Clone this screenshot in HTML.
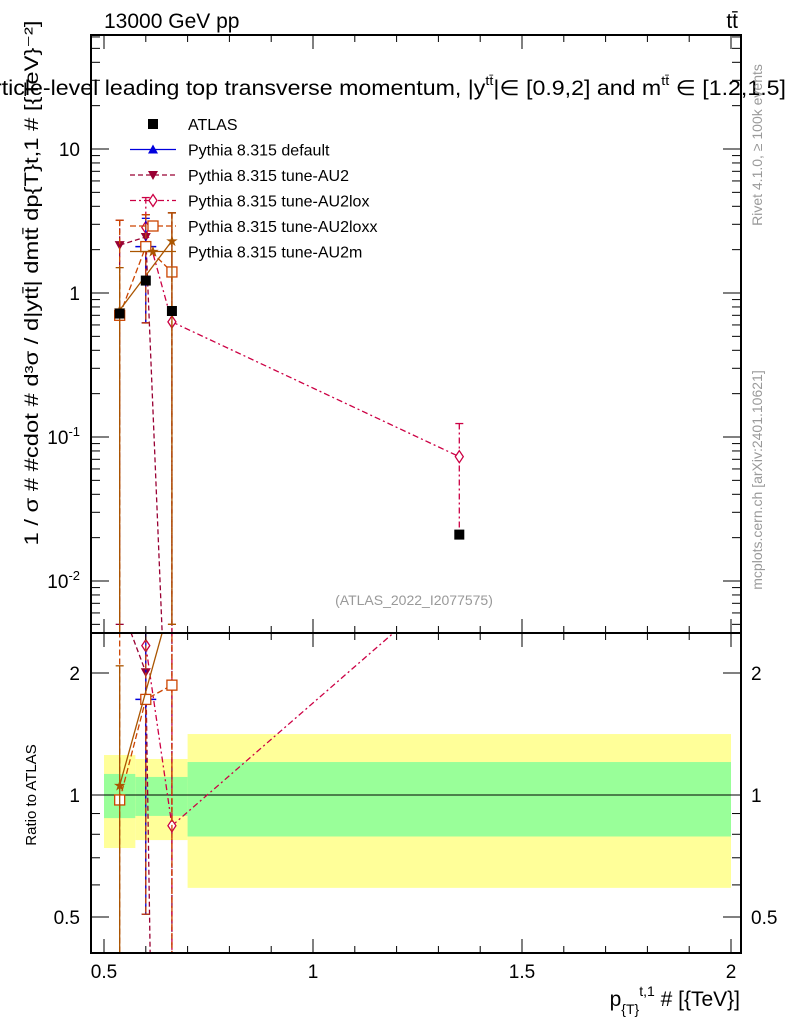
<!DOCTYPE html>
<html><head><meta charset="utf-8"><style>
html,body{margin:0;background:#fff;overflow:hidden;width:786px;height:1024px}
svg{display:block;font-family:"Liberation Sans",sans-serif}
</style></head><body>
<svg id="c" width="786" height="1024" xmlns="http://www.w3.org/2000/svg"></svg>
<script>
const xPts=[0.5375,0.6,0.6625,1.35];
const atlas=[0.72,1.22,0.75,0.021];
const bandEdges=[0.5,0.575,0.7,2.0];
const yellowLo=[0.74,0.774,0.59];
const yellowHi=[1.255,1.227,1.414];
const greenLo=[0.877,0.888,0.79];
const greenHi=[1.127,1.108,1.206];
const defX=[0.6], defV=[2.1], defLo=[0.62], defHi=[3.3];
const au2X=[0.5375,0.6,0.6625], au2V=[2.15,2.45,0.0001], au2Lo=[0.005,0.62,0.00001], au2Hi=[3.2,3.5,3.6];
const loxX=[0.6,0.6625,1.35], loxV=[2.85,0.63,0.073], loxLo=[0.62,0.00001,0.022], loxHi=[4.6,3.6,0.124];
const loxxX=[0.5375,0.6,0.6625], loxxV=[0.70,2.1,1.4], loxxLo=[0.00001,0.62,0.005], loxxHi=[3.2,3.5,3.6];
const amX=[0.5375,0.6625], amV=[0.76,2.3], amLo=[0.00001,0.005], amHi=[1.5,3.6];
const xTicks=[0.5,1,1.5,2], xTickLabels=["0.5","1","1.5","2"];

const S=document.getElementById('c'),NS='http://www.w3.org/2000/svg';
function el(t,a,p){const e=document.createElementNS(NS,t);for(const k in a)e.setAttribute(k,a[k]);(p||S).appendChild(e);return e;}
const L=91,R=741,T=35,M=633,B=953;
const X=v=>104+(v-0.5)*418;
const Y=v=>293-Math.log10(v)*144;
const RY=v=>795-Math.log2(v)*122;
const defs=el('defs',{});
const c1=el('clipPath',{id:'cm'},defs);el('rect',{x:L,y:T,width:R-L,height:M-T},c1);
const c2=el('clipPath',{id:'cr'},defs);el('rect',{x:L,y:M,width:R-L,height:B-M},c2);
for(let i=0;i<3;i++){
 const y=el('rect',{x:X(bandEdges[i]),y:RY(yellowHi[i]),width:X(bandEdges[i+1])-X(bandEdges[i]),height:RY(yellowLo[i])-RY(yellowHi[i]),fill:'#ffff99'});
 
 const g=el('rect',{x:X(bandEdges[i]),y:RY(greenHi[i]),width:X(bandEdges[i+1])-X(bandEdges[i]),height:RY(greenLo[i])-RY(greenHi[i]),fill:'#99ff99'});
 
}
el('line',{x1:L,x2:R,y1:RY(1),y2:RY(1),stroke:'#000','stroke-width':1});
const gm=el('g',{'clip-path':'url(#cm)'}),gr=el('g',{'clip-path':'url(#cr)'});
function marker(g,type,x,y,col){
 if(type==='sq')el('rect',{x:x-5,y:y-5,width:10,height:10,fill:'#000'},g);
 if(type==='tri')el('path',{d:`M${x-5},${y+4}L${x+5},${y+4}L${x},${y-5}Z`,fill:col},g);
 if(type==='tdn')el('path',{d:`M${x-5},${y-4}L${x+5},${y-4}L${x},${y+5}Z`,fill:col},g);
 if(type==='dia')el('path',{d:`M${x},${y-6}L${x+4},${y}L${x},${y+6}L${x-4},${y}Z`,fill:'#fff',stroke:col,'stroke-width':1.3},g);
 if(type==='osq')el('rect',{x:x-5,y:y-5,width:10,height:10,fill:'#fff',stroke:col,'stroke-width':1.3},g);
 if(type==='star')el('text',{x:x,y:y+5,'font-size':15,'text-anchor':'middle',fill:col},g).textContent='★';
}
function series(name,xs,vs,lo,hi,col,dash,type,xerr){
 for(const [g,f,ref,top] of [[gm,Y,false,T],[gr,RY,true,M]]){
  const grp=el('g',{},g);
  
  const pts=xs.map((x,i)=>[X(x),Math.max(-3000,Math.min(3000,f(ref?vs[i]/atlas[xPts.indexOf(x)]:vs[i])))]);
  el('polyline',{points:pts.map(p=>p.join(',')).join(' '),fill:'none',stroke:col,'stroke-width':1.3,'stroke-dasharray':dash},grp);
  xs.forEach((x,i)=>{const a=ref?atlas[xPts.indexOf(x)]:1;
   if(pts[i][1]<top)return;
   const y1=f(hi[i]/a),y2=Math.min(3000,f(lo[i]/a));
   el('line',{x1:X(x),x2:X(x),y1:y1,y2:y2,stroke:col,'stroke-width':1.3,'stroke-dasharray':dash},grp);
   el('line',{x1:X(x)-4,x2:X(x)+4,y1:y1,y2:y1,stroke:col,'stroke-width':1.3},grp);
   el('line',{x1:X(x)-4,x2:X(x)+4,y1:y2,y2:y2,stroke:col,'stroke-width':1.3},grp);
   if(xerr)el('line',{x1:X(x-xerr),x2:X(x+xerr),y1:pts[i][1],y2:pts[i][1],stroke:col,'stroke-width':1.5},grp);
   marker(grp,type,pts[i][0],pts[i][1],col);});
 }
}
series('pythia-au2',au2X,au2V,au2Lo,au2Hi,'#990033','5,3','tdn');
series('pythia-au2lox',loxX,loxV,loxLo,loxHi,'#cc0044','6,3,2,3','dia');
series('pythia-default',defX,defV,defLo,defHi,'#0000dd','','tri',0.025);
series('pythia-au2loxx',loxxX,loxxV,loxxLo,loxxHi,'#cc4400','6,3','osq',0);
series('pythia-au2m',amX,amV,amLo,amHi,'#aa5500','','star',0);
xPts.forEach((x,i)=>{const r=el('rect',{x:X(x)-5,y:Y(atlas[i])-5,width:10,height:10,fill:'#000'},gm);
 });
for(const [t,b] of [[T,M],[M,B]])el('rect',{x:L,y:t,width:R-L,height:b-t,fill:'none',stroke:'#000','stroke-width':2});
for(let v=0.5;v<=2.0001;v+=0.1){const big=Math.abs(v*2-Math.round(v*2))<1e-6,l=big?14:7;
 el('line',{x1:X(v),x2:X(v),y1:B,y2:B-l,stroke:'#000'});el('line',{x1:X(v),x2:X(v),y1:M,y2:M+l,stroke:'#000'});
 el('line',{x1:X(v),x2:X(v),y1:T,y2:T+l,stroke:'#000'});el('line',{x1:X(v),x2:X(v),y1:M,y2:M-l,stroke:'#000'});}
xTicks.forEach((v,i)=>{const t=el('text',{x:X(v),y:978,'font-size':19,'text-anchor':'middle'});t.textContent=xTickLabels[i];
 });
for(let d=-3;d<=1;d++)for(let m=1;m<10;m++){const v=m*Math.pow(10,d),y=Y(v);if(y<T||y>M)continue;const l=m==1?18:9;
 el('line',{x1:L,x2:L+l,y1:y,y2:y,stroke:'#000'});el('line',{x1:R,x2:R-l,y1:y,y2:y,stroke:'#000'});}
[[10,'10'],[1,'1']].forEach(([v,s])=>{const t=el('text',{x:80,y:Y(v)+7,'font-size':19,'text-anchor':'end'});t.textContent=s;});
[[0.1,-1],[0.01,-2]].forEach(([v,e])=>{const t=el('text',{x:80,y:Y(v)+7,'font-size':19,'text-anchor':'end'});t.innerHTML='10<tspan dy="-8" font-size="13">'+e+'</tspan>';});
for(const v of [0.5,0.6,0.7,0.8,0.9,1,2]){const y=RY(v),l=(v==0.5||v==1||v==2)?18:9;
 el('line',{x1:L,x2:L+l,y1:y,y2:y,stroke:'#000'});el('line',{x1:R,x2:R-l,y1:y,y2:y,stroke:'#000'});}
for(const v of [0.5,1,2]){const s=String(v);
 el('text',{x:80,y:RY(v)+7,'font-size':19,'text-anchor':'end'}).textContent=s;
 el('text',{x:751,y:RY(v)+7,'font-size':19}).textContent=s;}
el('text',{x:104,y:28,'font-size':21}).textContent='13000 GeV pp';
el('text',{x:738,y:28,'font-size':21,'text-anchor':'end'}).textContent='tt̄';
el('text',{x:-6,y:95,'font-size':21,textLength:792,lengthAdjust:'spacingAndGlyphs'}).innerHTML='rticle-level leading top transverse momentum, |y<tspan dy="-10" font-size="13">tt̄</tspan><tspan dy="10">|∈ [0.9,2] and m</tspan><tspan dy="-10" font-size="13">tt̄</tspan><tspan dy="10"> ∈ [1.2,1.5]</tspan>';
el('text',{x:740,y:1006,'font-size':21,'text-anchor':'end'}).innerHTML='p<tspan dy="8" font-size="14">{T}</tspan><tspan dy="-18" font-size="14">t,1</tspan><tspan dy="10"> # [{TeV}]</tspan>';
el('text',{transform:'translate(38,283) rotate(-90)','font-size':19,'text-anchor':'middle',textLength:525,lengthAdjust:'spacingAndGlyphs'}).textContent='1 / σ # #cdot # d³σ / d|ytt̄| dmtt̄ dp{T}t,1 # [{TeV}⁻²]';
el('text',{transform:'translate(36,795) rotate(-90)','font-size':15,'text-anchor':'middle'}).textContent='Ratio to ATLAS';
el('text',{transform:'translate(762,145) rotate(-90)','font-size':14,fill:'#999','text-anchor':'middle'}).textContent='Rivet 4.1.0, ≥ 100k events';
el('text',{transform:'translate(762,480) rotate(-90)','font-size':14,fill:'#999','text-anchor':'middle'}).textContent='mcplots.cern.ch [arXiv:2401.10621]';
el('text',{x:414,y:605,'font-size':14,fill:'#999','text-anchor':'middle'}).textContent='(ATLAS_2022_I2077575)';
const leg=[['ATLAS','sq','#000',''],['Pythia 8.315 default','tri','#0000dd',''],['Pythia 8.315 tune-AU2','tdn','#990033','5,3'],['Pythia 8.315 tune-AU2lox','dia','#cc0044','6,3,2,3'],['Pythia 8.315 tune-AU2loxx','osq','#cc4400','6,3'],['Pythia 8.315 tune-AU2m','star','#aa5500','']];
leg.forEach((e,i)=>{const y=124+i*25.5;const g=el('g',{});
 if(i>0)el('line',{x1:130,x2:176,y1:y,y2:y,stroke:e[2],'stroke-width':1.3,'stroke-dasharray':e[3]},g);
 marker(g,e[1],153,y,e[2]);el('text',{x:188,y:y+6,'font-size':16},g).textContent=e[0];});
</script>
</body></html>
